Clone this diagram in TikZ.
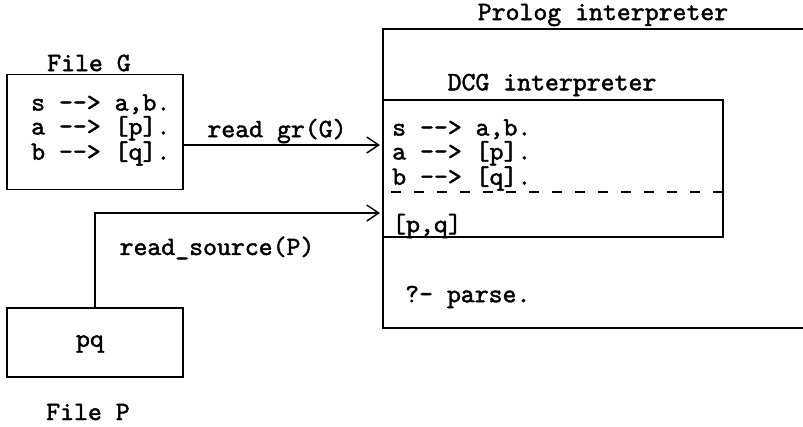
\documentclass[tikz,border=0pt]{standalone}
\usepackage{fontspec}
\newfontfamily\codett{lmmono10-regular.otf}[FakeBold=1.6]
\usetikzlibrary{positioning, arrows.meta}

\newcommand{\codefont}{\fontsize{26.5pt}{24pt}\selectfont\codett}

\tikzset{
  box/.style={draw, line width=1.4pt, inner sep=0pt},
  code/.style={font=\codefont, inner sep=0pt, align=left},
  flow/.style={-{Straight Barb[length=12pt,width=16pt,line width=1.4pt]}, line width=1.4pt}
}

\begin{document}
\begin{tikzpicture}[x=1pt, y=-1pt]
    \useasboundingbox (0,0) rectangle (803,426);

    % Input files
    \node[box, minimum width=176pt, minimum height=115pt] (fileG) at (95,132) {};
    \node[code] (titleG) at (89,63) {File G};
    \node[code, anchor=west] (rulesG) at (31,130) {s --> a,b.\\a --> [p].\\b --> [q].};

    \node[box, minimum width=176pt, minimum height=69pt] (fileP) at (95,342.5) {};
    \node[code] (wordP) at (90,344) {pq};
    \node[code] (titleP) at (88,412) {File P};

    % Prolog interpreter (cut off at the right edge)
    \node[code] (titleProlog) at (603,15) {Prolog interpreter};
    \draw[line width=1.4pt] (803,29) -| (383,328) -- (803,328);

    % DCG interpreter
    \node[box, minimum width=340pt, minimum height=137pt] (dcg) at (553,168.5) {};
    \node[code] (titleDCG) at (552,85) {DCG interpreter};
    \node[code, anchor=west] (rulesDCG) at (392,155) {s --> a,b.\\a --> [p].\\b --> [q].};
    \draw[line width=1.4pt, dash pattern=on 10pt off 13pt] (391,192) -- (dcg.east |- 0,192);
    \node[code, anchor=west] (listPQ) at (392,226) {[p,q]};
    \node[code, anchor=west] (query) at (405,297) {?- parse.};

    % Reading arrows
    \coordinate (inG) at (380,145);
    \coordinate (inP) at (380,213);
    \draw[flow] (fileG.east |- inG) -- (inG);
    \draw[flow] (fileP.north) |- (inP);
    \node[code] (readG) at (277,131) {read gr(G)};
    \node[code] (readP) at (217,248) {read\_source(P)};

\end{tikzpicture}
\end{document}
